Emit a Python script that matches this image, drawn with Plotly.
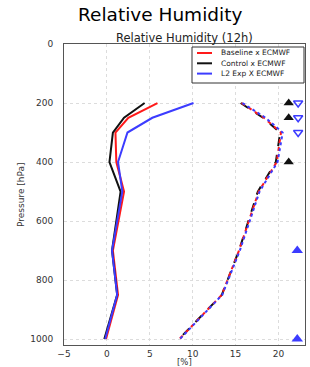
import plotly.graph_objects as go

# ---- data ----
levels = [200, 250, 300, 400, 500, 700, 850, 1000]

# bias profiles (solid)
bias_baseline = [5.9, 2.5, 1.0, 1.1, 2.0, 0.7, 1.3, -0.1]
bias_control = [4.4, 2.0, 0.7, 0.3, 1.6, 0.6, 1.2, -0.3]
bias_l2exp = [10.1, 5.3, 2.4, 1.3, 1.8, 0.6, 1.2, -0.2]

# rmse profiles (dashed)
rmse_baseline = [15.7, 18.3, 20.3, 19.8, 17.7, 15.4, 13.4, 8.45]
rmse_control = [15.6, 18.2, 20.2, 19.7, 17.6, 15.4, 13.4, 8.4]
rmse_l2exp = [15.8, 18.5, 20.5, 19.9, 17.8, 15.5, 13.45, 8.5]

# significance markers
sig_control_x = [21.2, 21.2, 21.2]
sig_control_p = [200, 250, 400]
sig_l2open_x = [22.3, 22.3, 22.3]
sig_l2open_p = [200, 250, 300]
sig_l2fill_x = [22.2, 22.2]
sig_l2fill_p = [700, 1000]

x_ticks = [-5, 0, 5, 10, 15, 20]
x_tick_text = ["\u22125", "0", "5", "10", "15", "20"]
y_ticks = [0, 200, 400, 600, 800, 1000]

names = ["Baseline x ECMWF", "Control x ECMWF", "L2 Exp X ECMWF"]
RED = "#ff1a1a"
BLACK = "#111111"
BLUE = "#3c3cff"
colors = [RED, BLACK, BLUE]

# plot area in pixels
L, R, T, B = 64, 305, 44, 345
W, H = R - L, B - T


def px(x):
    return (x - L) / W


def py(y):
    return 1 - (y - T) / H


fig = go.Figure()

for vals, name, col in zip([bias_baseline, bias_control, bias_l2exp], names, colors):
    fig.add_trace(go.Scatter(x=vals, y=levels, mode="lines", name=name,
                             line=dict(color=col, width=2)))

fig.add_trace(go.Scatter(x=rmse_control, y=levels, mode="lines",
                         line=dict(color=BLACK, width=2, dash="dash")))
fig.add_trace(go.Scatter(x=rmse_baseline, y=levels, mode="lines",
                         line=dict(color=RED, width=2, dash="4px,4px")))
fig.add_trace(go.Scatter(x=rmse_l2exp, y=levels, mode="lines",
                         line=dict(color=BLUE, width=2, dash="dot")))

fig.add_trace(go.Scatter(x=sig_control_x, y=sig_control_p, mode="markers",
                         marker=dict(symbol="triangle-up", size=9, color=BLACK)))
fig.add_trace(go.Scatter(x=sig_l2open_x, y=sig_l2open_p, mode="markers",
                         marker=dict(symbol="triangle-down-open", size=8, color=BLUE,
                                     line=dict(width=1.5, color=BLUE))))
fig.add_trace(go.Scatter(x=sig_l2fill_x, y=sig_l2fill_p, mode="markers",
                         marker=dict(symbol="triangle-up", size=10, color=BLUE)))

FONT = "DejaVu Sans"
fig.update_layout(
    width=310, height=367,
    margin=dict(l=L, r=310 - R, t=T, b=367 - B, autoexpand=False),
    paper_bgcolor="white", plot_bgcolor="white",
    font=dict(family=FONT, size=9, color="#333"),
    showlegend=False,
    xaxis=dict(range=[-5, 23.1], tickvals=x_ticks, ticktext=x_tick_text,
               showgrid=True, gridcolor="#dcdcdc", griddash="dot", gridwidth=1,
               showline=True, linecolor="#555", linewidth=1, mirror=True,
               ticks="", zeroline=False, tickfont=dict(size=9, color="#333"),
               ticklabelstandoff=0),
    yaxis=dict(range=[1020, 0], tickvals=y_ticks,
               showgrid=True, gridcolor="#dcdcdc", griddash="dot", gridwidth=1,
               showline=True, linecolor="#555", linewidth=1, mirror=True,
               ticks="", zeroline=False, tickfont=dict(size=9, color="#333"),
               ticklabelstandoff=8),
)

# manual compact legend
fig.add_shape(type="rect", xref="paper", yref="paper",
              x0=px(192), x1=px(304), y0=py(83), y1=py(47),
              line=dict(color="#333", width=1), fillcolor="white", layer="above")
for i, (name, col) in enumerate(zip(names, colors)):
    yy = 53 + i * 10.3
    fig.add_shape(type="line", xref="paper", yref="paper",
                  x0=px(197), x1=px(212), y0=py(yy), y1=py(yy),
                  line=dict(color=col, width=2), layer="above")
    fig.add_annotation(text=name, xref="paper", yref="paper",
                       x=px(219), y=py(yy), xanchor="left", yanchor="middle",
                       showarrow=False, font=dict(family=FONT, size=7.5, color="#222"))

fig.add_annotation(text="Relative Humidity", xref="paper", yref="paper",
                   x=px(160), y=py(15), xanchor="center", yanchor="middle",
                   showarrow=False, font=dict(family=FONT, size=18.5, color="black"))
fig.add_annotation(text="Relative Humidity (12h)", xref="paper", yref="paper",
                   x=0.5, y=py(38.5), xanchor="center", yanchor="middle",
                   showarrow=False, font=dict(family=FONT, size=11.5, color="#222"))
fig.add_annotation(text="[%]", xref="paper", yref="paper",
                   x=0.5, y=py(362), xanchor="center", yanchor="middle",
                   showarrow=False, font=dict(family=FONT, size=8.5, color="#333"))
fig.add_annotation(text="Pressure [hPa]", xref="paper", yref="paper",
                   x=px(21), y=py(195), xanchor="center", yanchor="middle",
                   textangle=-90, showarrow=False, font=dict(family=FONT, size=9, color="#333"))

fig.write_html("out.html", config={"displayModeBar": False},
               post_script="document.body.style.margin='0';")
